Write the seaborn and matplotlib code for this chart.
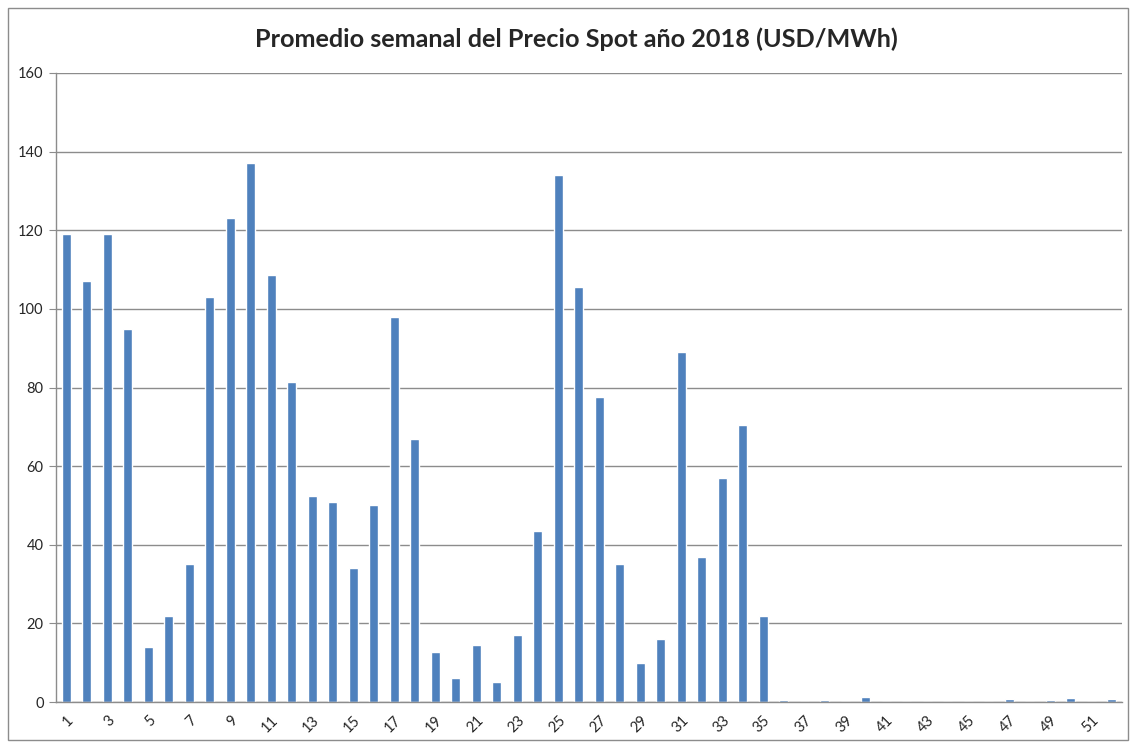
import pandas as pd
import matplotlib.pyplot as plt
import seaborn as sns

sns.set_style("white")
plt.rcParams["font.family"] = ["Lato", "DejaVu Sans"]

semanas = list(range(1, 53))
precios = [119, 107, 119, 95, 14, 22, 35, 103, 123, 137,
           108.5, 81.5, 52.5, 51, 34, 50, 98, 67, 12.8, 6,
           14.5, 5, 17, 43.5, 134, 105.5, 77.5, 35, 10, 16,
           89, 37, 57, 70.5, 22, 0.5, 0, 0.5, 0, 1.2,
           0, 0, 0, 0, 0, 0, 0.7, 0, 0.4, 1.0,
           0, 0.7]
titulo = "Promedio semanal del Precio Spot año 2018 (USD/MWh)"

df = pd.DataFrame({"semana": semanas, "precio": precios})

fig = plt.figure(figsize=(11.31, 7.42), dpi=100)
# marco exterior estilo Excel
fig.patches.append(plt.Rectangle((8 / 1131, 2 / 742), 1120 / 1131, 732 / 742,
                                 transform=fig.transFigure, fill=False,
                                 edgecolor="#8c8c8c", linewidth=1))
ax = fig.add_axes([56 / 1131, 40 / 742, 1066 / 1131, 629 / 742])

sns.barplot(data=df, x="semana", y="precio", color="#4F81BD", width=0.45,
            saturation=1, ax=ax)

ax.set_ylim(0, 160)
ax.set_xlim(-0.5, 51.5)
ax.set_yticks(range(0, 161, 20))
ax.yaxis.grid(True, color="#8c8c8c", linewidth=1)
ax.set_axisbelow(True)

ax.set_xticks(range(0, 52, 2))
ax.set_xticklabels([str(s) for s in semanas[::2]], rotation=45, ha="right",
                   rotation_mode="anchor", fontsize=10.5)
ax.set_xticks([i - 0.5 for i in range(53)], minor=True)
ax.tick_params(axis="x", which="major", length=0, pad=8)
ax.tick_params(axis="x", which="minor", length=5, color="#8c8c8c", direction="out")
ax.tick_params(axis="y", length=5, color="#8c8c8c", direction="out", labelsize=10.5, pad=4)
ax.tick_params(bottom=True, left=True)

for s in ["top", "right"]:
    ax.spines[s].set_visible(False)
for s in ["left", "bottom"]:
    ax.spines[s].set_color("#8c8c8c")
    ax.spines[s].set_linewidth(1)

ax.set_xlabel("")
ax.set_ylabel("")
fig.text(576 / 1131, 1 - 39 / 742, titulo, ha="center", va="center",
         fontsize=18.2, fontweight="bold")

fig.savefig("out.png", dpi=100)
